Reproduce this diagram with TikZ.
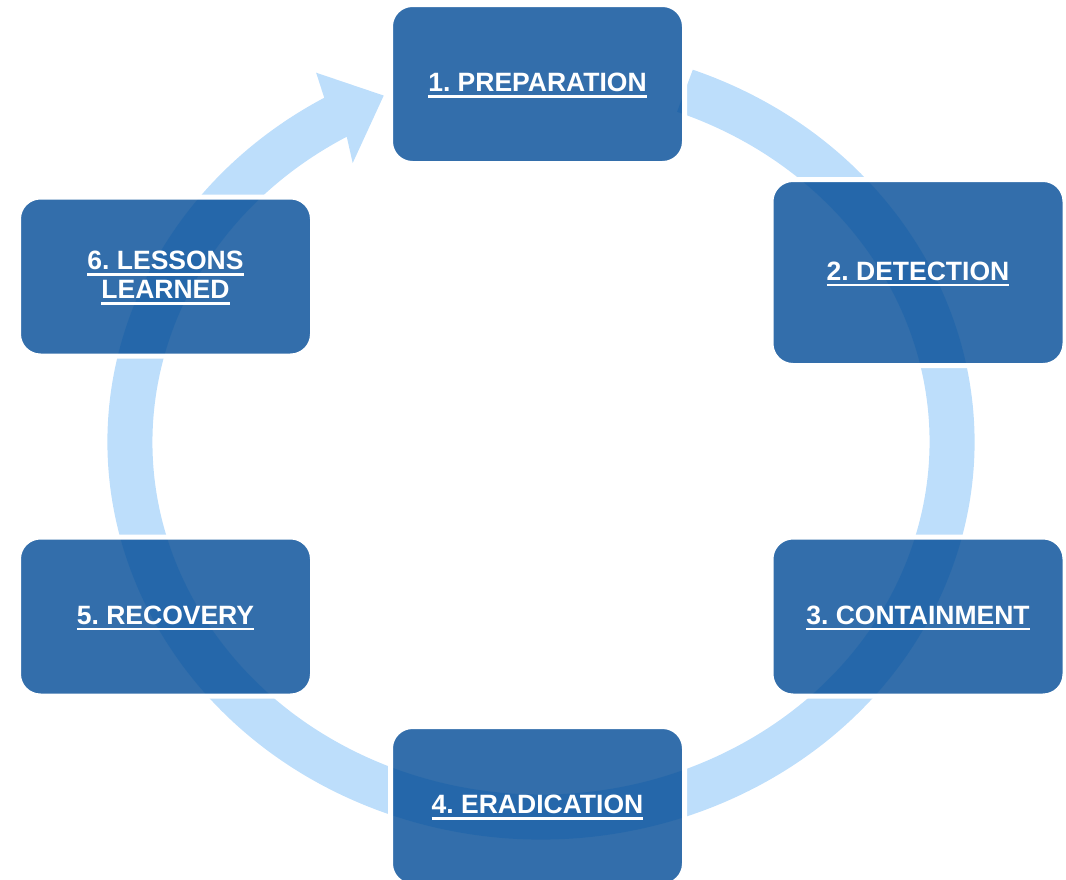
\documentclass[tikz,border=0pt]{standalone}
\usepackage{fontspec}
\setmainfont{Liberation Sans}
\definecolor{ringblue}{RGB}{189,222,251}
\definecolor{boxblue}{RGB}{0,74,150}
% underlined label: rule 3.3pt under the baseline
\newcommand{\ulabel}[1]{\leavevmode\vtop{\hbox{#1}\kern3.3pt\hrule height 2.6pt}}
\tikzset{
  phase/.style={draw=white, line width=5pt, fill=boxblue, fill opacity=0.8,
    text opacity=1, text=white, rounded corners=22pt, inner sep=0pt,
    minimum width=294pt, minimum height=159pt, align=center, text depth=3pt,
    font=\fontsize{26.5}{29}\selectfont\bfseries\frenchspacing},
}

\begin{document}
\begin{tikzpicture}[x=1pt,y=-1pt]
  \useasboundingbox (0,0) rectangle (1066,879);
  % the cycle ring, ending in an arrow head at the top
  \begin{scope}[shift={(541,442)}]
    \fill[ringblue] (-69.5:433.5 and 397.5)
      arc[start angle=-69.5, end angle=240, x radius=433.5, y radius=397.5]
      -- (240.7:459.5 and 423.5) -- (247.5:411 and 375)
      -- (238.7:362.5 and 326.5) -- (240:388.5 and 352.5)
      arc[start angle=240, end angle=-69.5, x radius=388.5, y radius=352.5]
      -- cycle;
  \end{scope}
  % the six phases
  \node[phase] (prep) at (537.5,84) {\ulabel{1. PREPARATION}};
  \node[phase, minimum height=186pt] (detect) at (918,272.5) {\ulabel{2. DETECTION}};
  \node[phase] (contain) at (918,616.5) {\ulabel{3. CONTAINMENT}};
  \node[phase] (erad) at (537.5,806) {\ulabel{4. ERADICATION}};
  \node[phase] (recover) at (165.5,616.5) {\ulabel{5. RECOVERY}};
  \node[phase] (lessons) at (165.5,276.5) {\ulabel{6. LESSONS}\\\ulabel{LEARNED}};
\end{tikzpicture}
\end{document}
